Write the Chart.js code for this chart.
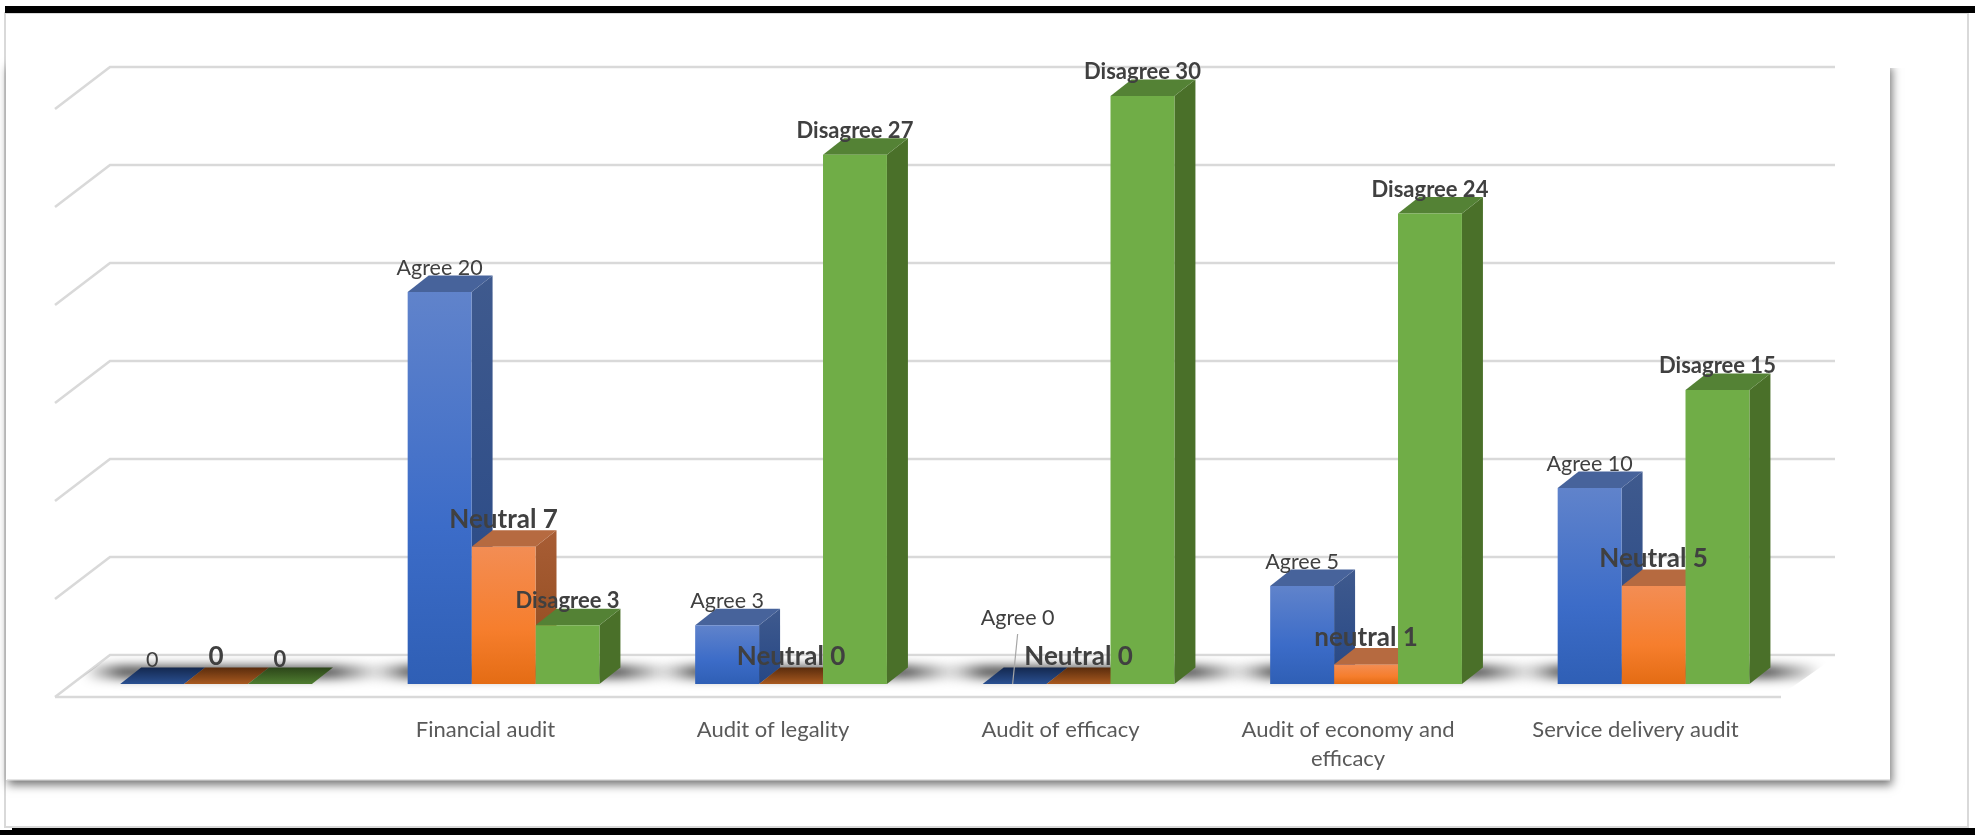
<!DOCTYPE html>
<html>
<head>
<meta charset="utf-8">
<style>html,body{margin:0;padding:0;background:#fff}canvas{display:block}</style>
<script src="https://cdn.jsdelivr.net/npm/chart.js@4/dist/chart.umd.js"></script>
</head>
<body>
<canvas id="c" width="1975" height="835"></canvas>
<script>
const categories = ["", "Financial audit", "Audit of legality", "Audit of efficacy", ["Audit of economy and", "efficacy"], "Service delivery audit"];
const agree = [0, 20, 3, 0, 5, 10];
const neutral = [0, 7, 0, 0, 1, 5];
const disagree = [0, 3, 27, 30, 24, 15];
const agreeLabels = ["0", "Agree 20", "Agree 3", "Agree 0", "Agree 5", "Agree 10"];
const neutralLabels = ["0", "Neutral 7", "Neutral 0", "Neutral 0", "neutral 1", "Neutral 5"];
const disagreeLabels = ["0", "Disagree 3", "Disagree 27", "Disagree 30", "Disagree 24", "Disagree 15"];
const yTicks = {min: 0, max: 30, step: 5};

const FONT = 'Lato, "Open Sans", sans-serif';
const DEPTH = {dx: 21, dy: 16.5};
const WALL = {left: 110, right: 1835, fl: 55, fr: 1781, dx: 55, dy: 42, up: 29};
const styles = [
  {front: ['#6083cb', '#3c6cc8', '#2f5fb5'], side: ['#3f5a8e', '#264785'], top: '#47639b', zero: ['#14284f', '#2a5091'], lab: [`400 21.5px ${FONT}`], off: 24},
  {front: ['#f38d54', '#f67e2d', '#e46c14'], side: ['#a85d35', '#8f4a1c'], top: '#b66a40', zero: ['#5a2c0d', '#a8591f'], lab: [`700 26px ${FONT}`], off: 27},
  {front: ['#70ad47', '#70ad47', '#70ad47'], side: ['#4a7029', '#4a7029'], top: '#548235', zero: ['#2c4519', '#4f7d30'], lab: [`700 22px ${FONT}`], off: 24}
];
const seriesLabels = [agreeLabels, neutralLabels, disagreeLabels];

function frontFill(s) {
  return ctx => {
    const chart = ctx.chart, y = chart.scales.y;
    const v = ctx.parsed ? ctx.parsed.y : undefined;
    if (v === undefined || !y) return styles[s].front[1];
    const p0 = y.getPixelForValue(v), p1 = y.getPixelForValue(0);
    if (!isFinite(p0) || !isFinite(p1)) return styles[s].front[1];
    const g = chart.ctx.createLinearGradient(0, p0, 0, p1);
    g.addColorStop(0, styles[s].front[0]);
    g.addColorStop(0.6, styles[s].front[1]);
    g.addColorStop(1, styles[s].front[2]);
    return g;
  };
}

function poly(c, pts) {
  c.beginPath();
  pts.forEach((p, i) => i ? c.lineTo(p[0], p[1]) : c.moveTo(p[0], p[1]));
  c.closePath();
}

const scene = {
  id: 'scene',
  beforeDraw(chart) {
    const c = chart.ctx;
    c.save();
    c.fillStyle = '#fff';
    c.fillRect(0, 0, 1975, 835);
    // outer frame
    c.strokeStyle = '#d9d9d9';
    c.lineWidth = 2;
    c.strokeRect(5, 13, 1963, 814);
    // inner panel with drop shadow
    c.save();
    c.shadowColor = 'rgba(0,0,0,0.55)';
    c.shadowBlur = 9;
    c.shadowOffsetX = 2;
    c.shadowOffsetY = 5;
    c.fillStyle = '#fff';
    c.fillRect(6, 62, 1884, 718);
    c.restore();
    c.fillStyle = '#e4e4e4';
    c.fillRect(7, 779, 1883, 1.5);
    c.fillStyle = '#fff';
    c.fillRect(6, 14, 1961, 54);
    c.fillRect(6, 14, 3, 760);
    c.fillStyle = '#000';
    c.fillRect(5, 6, 1970, 7);
    c.fillRect(12, 828, 1963, 2);
    c.fillRect(0, 830, 1975, 5);
    c.restore();
  },
  beforeDatasetsDraw(chart) {
    const c = chart.ctx, y = chart.scales.y;
    c.save();
    // walls
    c.strokeStyle = '#d9d9d9';
    c.lineWidth = 2.5;
    y.ticks.forEach(t => {
      const yb = y.getPixelForValue(t.value) - WALL.up;
      c.beginPath();
      c.moveTo(WALL.fl, yb + WALL.dy);
      c.lineTo(WALL.left, yb);
      c.lineTo(WALL.right, yb);
      c.stroke();
    });
    const y0 = y.getPixelForValue(0) - WALL.up;
    c.beginPath();
    c.moveTo(WALL.fl, y0 + WALL.dy);
    c.lineTo(WALL.fr, y0 + WALL.dy);
    c.stroke();
    // floor shadows, clipped to the floor
    c.save();
    poly(c, [[WALL.left, y0 + 2], [WALL.right, y0 + 2], [WALL.fr, y0 + WALL.dy - 2], [WALL.fl, y0 + WALL.dy - 2]]);
    c.clip();
    c.filter = 'blur(5.5px)';
    const m0 = chart.getDatasetMeta(0).data, m2 = chart.getDatasetMeta(2).data;
    const base = y.getPixelForValue(0);
    m0.forEach((b, i) => {
      const l = b.x - b.width / 2, r = m2[i].x + m2[i].width / 2;
      const x0 = l - 36, x1 = r + 72;
      const g = c.createLinearGradient(x0, 0, x1, 0);
      g.addColorStop(0, 'rgba(0,0,0,0)');
      g.addColorStop(38 / (x1 - x0), 'rgba(0,0,0,0.72)');
      g.addColorStop(1 - 52 / (x1 - x0), 'rgba(0,0,0,0.72)');
      g.addColorStop(1, 'rgba(0,0,0,0)');
      c.fillStyle = g;
      c.fillRect(x0, base - 18, x1 - x0, 12);
    });
    c.filter = 'none';
    c.restore();
    // side and top faces of every bar
    const n = chart.data.datasets.length;
    for (let j = 0; j < categories.length; j++) {
      for (let i = 0; i < n; i++) {
        const b = chart.getDatasetMeta(i).data[j], st = styles[i];
        const l = b.x - b.width / 2, r = b.x + b.width / 2, t = b.y, bt = b.base;
        const d = DEPTH;
        if (bt - t > 0.5) {
          const sg = c.createLinearGradient(0, t - d.dy, 0, bt);
          sg.addColorStop(0, st.side[0]);
          sg.addColorStop(1, st.side[1]);
          c.fillStyle = sg;
          poly(c, [[r, t], [r + d.dx, t - d.dy], [r + d.dx, bt - d.dy], [r, bt]]);
          c.fill();
          c.fillStyle = st.top;
        } else {
          const tg = c.createLinearGradient(0, t - d.dy, 0, t);
          tg.addColorStop(0, st.zero[0]);
          tg.addColorStop(1, st.zero[1]);
          c.fillStyle = tg;
        }
        poly(c, [[l, t], [l + d.dx, t - d.dy], [r + d.dx, t - d.dy], [r, t]]);
        c.fill();
      }
    }
    c.restore();
  },
  afterDatasetsDraw(chart) {
    const c = chart.ctx;
    c.save();
    c.textAlign = 'center';
    c.textBaseline = 'middle';
    c.fillStyle = '#404040';
    const n = chart.data.datasets.length;
    for (let i = 0; i < n; i++) {
      const st = styles[i], meta = chart.getDatasetMeta(i);
      meta.data.forEach((b, j) => {
        const text = seriesLabels[i][j];
        let off = st.off, dx = 0;
        if (text === 'Agree 0') {
          off = 66; dx = 3;
          c.strokeStyle = '#a6a6a6';
          c.lineWidth = 1.2;
          c.beginPath();
          c.moveTo(b.x + dx, b.y - 50);
          c.lineTo(b.x - 2, b.y);
          c.stroke();
        }
        c.font = st.lab[0];
        c.fillText(text, b.x + dx, b.y - off);
      });
    }
    c.restore();
  }
};

new Chart(document.getElementById('c'), {
  type: 'bar',
  data: {
    labels: categories,
    datasets: [
      {label: 'Agree', data: agree, backgroundColor: frontFill(0)},
      {label: 'Neutral', data: neutral, backgroundColor: frontFill(1)},
      {label: 'Disagree', data: disagree, backgroundColor: frontFill(2)}
    ]
  },
  options: {
    responsive: false,
    animation: false,
    layout: {padding: {left: 72.3, right: 177.7, top: 96, bottom: 0}},
    plugins: {legend: {display: false}, title: {display: false}, tooltip: {enabled: false}},
    datasets: {bar: {categoryPercentage: 0.667, barPercentage: 1, borderWidth: 0}},
    scales: {
      x: {
        grid: {display: false, drawTicks: false},
        border: {display: false},
        afterFit(s) { s.height = 151; },
        ticks: {
          maxRotation: 0, minRotation: 0, autoSkip: false,
          labelOffset: -18, padding: 31,
          color: '#595959',
          font: {family: FONT, size: 22, lineHeight: 1.32}
        }
      },
      y: {
        display: false,
        min: yTicks.min, max: yTicks.max,
        ticks: {stepSize: yTicks.step}
      }
    }
  },
  plugins: [scene]
});
</script>
</body>
</html>
